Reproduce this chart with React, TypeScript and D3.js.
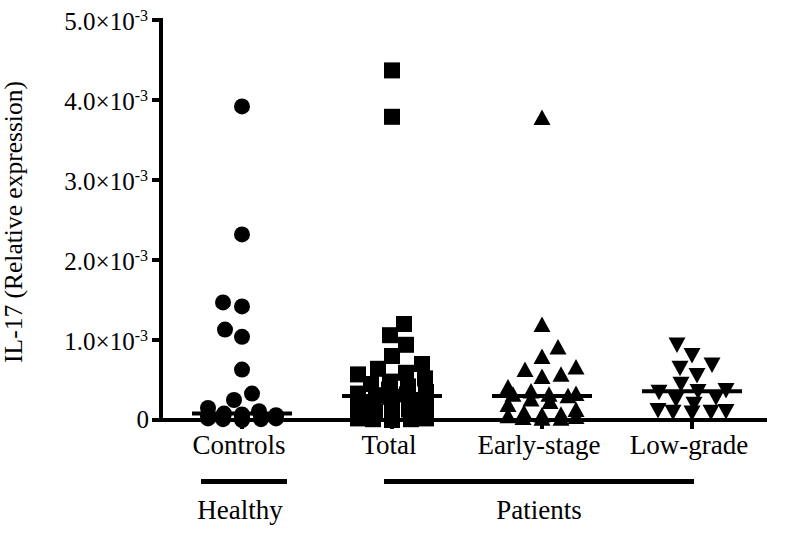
import React from "react";
import * as d3 from "d3";

// values in units of 1e-3
const categories = ["Controls", "Total", "Early-stage", "Low-grade"];
const controls = [3.92, 2.32, 1.47, 1.42, 1.13, 1.04, 0.63, 0.33, 0.25, 0.15, 0.11, 0.08, 0.07, 0.06, 0.05, 0.04, 0.03, 0.03, 0.02, 0.02, 0.01, 0.01, 0.0];
const total = [4.37, 3.79, 1.2, 1.06, 0.94, 0.8, 0.7, 0.64, 0.59, 0.57, 0.52, 0.48, 0.45, 0.42, 0.38, 0.35, 0.33, 0.32, 0.31, 0.31, 0.29, 0.27, 0.25, 0.22, 0.2, 0.18, 0.15, 0.13, 0.11, 0.09, 0.08, 0.06, 0.05, 0.04, 0.03, 0.02, 0.02, 0.01, 0.01, 0.0];
const earlyStage = [3.77, 1.18, 0.9, 0.78, 0.65, 0.62, 0.56, 0.53, 0.4, 0.35, 0.32, 0.31, 0.31, 0.29, 0.25, 0.22, 0.18, 0.12, 0.08, 0.06, 0.05, 0.04, 0.03, 0.02, 0.01, 0.01];
const lowGrade = [0.95, 0.82, 0.7, 0.66, 0.57, 0.46, 0.38, 0.37, 0.36, 0.29, 0.27, 0.21, 0.13, 0.12, 0.11, 0.11, 0.1];
const seriesValues = [controls, total, earlyStage, lowGrade];
const markerShapes = ["circle", "square", "triangle", "triangleDown"];
const yTicks = [0, 1, 2, 3, 4, 5];
const yExponent = "-3";
const yTitle = "IL-17 (Relative expression)";
const groupLabels = ["Healthy", "Patients"];

const W = 791;
const H = 549;
const FONT = "'Liberation Serif', 'Times New Roman', serif";

function swarm(values: number[], yPix: (v: number) => number, wx: number, wy: number, maxOff: number) {
  const order = values.map((v, i) => ({ v, i })).sort((a, b) => a.v - b.v);
  const placed: { x: number; y: number }[] = [];
  const out: { v: number; dx: number; y: number }[] = [];
  order.forEach((p, k) => {
    const py = yPix(p.v);
    let best = 0;
    let bestPen = Infinity;
    let found = false;
    for (let s = 0; s <= maxOff && !found; s += 1) {
      const signs = s === 0 ? [1] : k % 2 ? [1, -1] : [-1, 1];
      for (const sg of signs) {
        const dx = s * sg;
        let pen = 0;
        for (const q of placed) {
          const ex = (dx - q.x) / wx;
          const ey = (py - q.y) / wy;
          const d2 = ex * ex + ey * ey;
          if (d2 < 1) pen += 1 - d2;
        }
        if (pen === 0) {
          best = dx;
          found = true;
          break;
        }
        if (pen < bestPen - 1e-9) {
          bestPen = pen;
          best = dx;
        }
      }
    }
    placed.push({ x: best, y: py });
    out.push({ v: p.v, dx: best, y: py });
  });
  return out;
}

function Marker({ shape, x, y }: { shape: string; x: number; y: number }) {
  if (shape === "circle") return <circle cx={x} cy={y} r={8} fill="#000" />;
  if (shape === "square") return <rect x={x - 8} y={y - 8} width={16} height={16} fill="#000" />;
  if (shape === "triangle")
    return <path d={`M${x},${y - 9}L${x + 8.5},${y + 6.5}L${x - 8.5},${y + 6.5}Z`} fill="#000" />;
  return <path d={`M${x},${y + 9}L${x + 8.5},${y - 6.5}L${x - 8.5},${y - 6.5}Z`} fill="#000" />;
}

export default function App() {
  const y = d3.scaleLinear().domain([0, 5]).range([420, 20]);
  const x = d3.scalePoint<string>().domain(categories).range([242, 692]);
  const axisX = 161;
  const axisRight = 767;

  const groupExtents = [
    [x("Controls")! - 41, x("Controls")! + 45],
    [x("Total")! - 8, x("Low-grade")! + 2],
  ];
  const groupCenters = [240, 539];

  return (
    <svg width={W} height={H} style={{ position: "absolute", left: 0, top: 0, background: "#fff" }} fontFamily={FONT}>
      <rect width={W} height={H} fill="#fff" />
      {/* points */}
      {seriesValues.map((vals, si) => {
        const cx = x(categories[si])!;
        const pts = swarm(vals, y, 19, 16, 34);
        return (
          <g key={si}>
            {pts.map((p, pi) => (
              <Marker key={pi} shape={markerShapes[si]} x={cx + p.dx} y={p.y} />
            ))}
          </g>
        );
      })}
      {/* medians */}
      {seriesValues.map((vals, si) => {
        const cx = x(categories[si])!;
        const m = d3.median(vals)!;
        return <line key={si} x1={cx - 50} x2={cx + 50} y1={y(m)} y2={y(m)} stroke="#000" strokeWidth={4} />;
      })}
      {/* y axis */}
      <line x1={axisX} x2={axisX} y1={y(5) - 2} y2={y(0) + 2} stroke="#000" strokeWidth={4} />
      {yTicks.map((t) => (
        <g key={t}>
          <line x1={152} x2={axisX} y1={y(t)} y2={y(t)} stroke="#000" strokeWidth={4} />
          {t === 0 ? (
            <text x={149} y={y(t) + 8} fontSize={25} textAnchor="end">0</text>
          ) : (
            <text x={148} y={y(t) + 10} fontSize={25} textAnchor="end">
              {`${t.toFixed(1)}×10`}
              <tspan fontSize={16} dy={-9}>{yExponent}</tspan>
            </text>
          )}
        </g>
      ))}
      {/* x axis */}
      <line x1={axisX - 2} x2={axisRight} y1={y(0)} y2={y(0)} stroke="#000" strokeWidth={4} />
      {categories.map((c) => (
        <g key={c}>
          <line x1={x(c)!} x2={x(c)!} y1={y(0)} y2={y(0) + 9} stroke="#000" strokeWidth={4} />
          <text x={x(c)! - 3} y={454} fontSize={27} textAnchor="middle">{c}</text>
        </g>
      ))}
      {/* group brackets */}
      {groupLabels.map((g, gi) => (
        <g key={g}>
          <line x1={groupExtents[gi][0]} x2={groupExtents[gi][1]} y1={481.5} y2={481.5} stroke="#000" strokeWidth={5} />
          <text x={groupCenters[gi]} y={519} fontSize={27} textAnchor="middle">{g}</text>
        </g>
      ))}
      {/* y title */}
      <text transform="translate(22,222) rotate(-90)" fontSize={25.5} textAnchor="middle">{yTitle}</text>
    </svg>
  );
}
